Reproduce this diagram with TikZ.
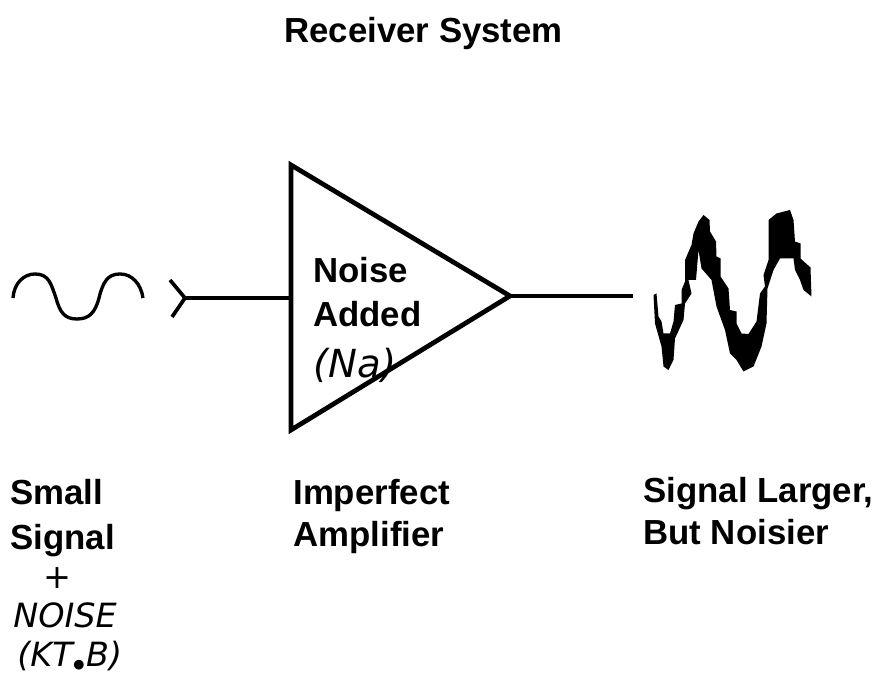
\documentclass[tikz,border=0pt]{standalone}
\usepackage{fontspec}
\setmainfont{Liberation Sans}
\newfontfamily\handfont{DejaVu Sans}
\tikzset{
  wire/.style={line width=2.1pt},
  ampline/.style={line width=2.7pt, line join=miter},
  printed/.style={anchor=base west, inner sep=0pt, font=\fontsize{19.8}{22}\selectfont\bfseries},
  handwritten/.style={anchor=base west, inner sep=0pt, font=\fontsize{19}{22}\selectfont\handfont\itshape}
}
\begin{document}
\begin{tikzpicture}
	\useasboundingbox (0,0) rectangle (17.66,13.58);
	\node[printed] (title) at (5.68,12.72) {Receiver System}; % Title
	\coordinate (ampTop) at (5.82,10.28);
	\coordinate (ampBot) at (5.82,4.98);
	\coordinate (ampTip) at (10.2,7.66);
	\coordinate (ampIn) at (5.82,7.62);
	\coordinate (fork) at (3.7,7.62);
	\coordinate (forkUp) at (3.4,7.98);
	\coordinate (forkDown) at (3.44,7.24);
	\coordinate (outEnd) at (12.66,7.66);
	\draw[ampline] (ampTop) -- (ampTip) -- (ampBot) -- cycle; % Amplifier
	\draw[wire] (ampIn) -- (fork); % Input line
	\draw[wire] (forkUp) -- (fork) -- (forkDown); % Input fork
	\draw[wire] (ampTip) -- (outEnd); % Output line
	\draw[line width=1.9pt] (0.26,7.62) .. controls (0.28,7.92) and (0.48,8.1) .. (0.7,8.1)
		.. controls (0.98,8.1) and (1.02,7.9) .. (1.12,7.62)
		.. controls (1.2,7.32) and (1.3,7.2) .. (1.54,7.2)
		.. controls (1.78,7.2) and (1.9,7.32) .. (1.98,7.62)
		.. controls (2.06,7.95) and (2.16,8.1) .. (2.4,8.1)
		.. controls (2.64,8.1) and (2.82,7.9) .. (2.86,7.62); % Small signal
	\fill[black] (13.07,7.68) -- (13.13,7.71) -- (13.17,7.25) -- (13.23,7.15) -- (13.27,6.91) -- (13.4,6.91)
		-- (13.47,7.15) -- (13.5,7.48) -- (13.63,7.51) -- (13.63,7.78) -- (13.7,7.95) -- (13.7,8.38)
		-- (13.83,8.68) -- (13.87,8.91) -- (13.97,9.15) -- (14.07,9.28) -- (14.19,9.18) -- (14.2,8.95)
		-- (14.32,8.75) -- (14.33,8.45) -- (14.41,8.41) -- (14.41,8.05) -- (14.57,7.81) -- (14.6,7.38)
		-- (14.73,7.35) -- (14.73,7.11) -- (14.83,6.91) -- (14.97,6.9) -- (15.13,7.15) -- (15.2,7.71)
		-- (15.3,7.85) -- (15.27,8.08) -- (15.37,8.38) -- (15.37,9.18) -- (15.53,9.31) -- (15.8,9.38)
		-- (15.87,9.18) -- (15.9,8.75) -- (16.01,8.71) -- (16.01,8.41) -- (16.21,8.23) -- (16.23,7.65)
		-- (16.07,7.78) -- (16.0,7.98) -- (15.9,8.18) -- (15.87,8.41) -- (15.6,8.41) -- (15.47,8.18)
		-- (15.35,7.81) -- (15.33,7.11) -- (15.23,6.65) -- (15.07,6.25) -- (14.87,6.15) -- (14.73,6.38)
		-- (14.6,6.51) -- (14.5,6.98) -- (14.33,7.45) -- (14.23,7.98) -- (14.03,8.21) -- (13.97,8.58)
		-- (13.92,7.98) -- (13.77,7.98) -- (13.83,7.71) -- (13.7,7.51) -- (13.67,7.18) -- (13.5,6.81)
		-- (13.47,6.38) -- (13.37,6.18) -- (13.27,6.25) -- (13.23,6.65) -- (13.1,7.11) -- cycle; % Noisy signal
	\node[printed] (noise) at (6.26,7.92) {Noise}; % Amplifier text
	\node[printed] (added) at (6.26,7.04) {Added};
	\node[handwritten, font=\fontsize{22}{24}\selectfont\handfont\itshape] (na) at (6.26,6.02) {(Na)};
	\node[printed] (small) at (0.2,3.48) {Small}; % Left column
	\node[printed] (signal) at (0.2,2.58) {Signal};
	\node[handwritten, anchor=center] (plus) at (1.14,2.02) {+};
	\node[handwritten] (noisehand) at (0.26,1.02) {NOISE};
	\node[handwritten] (ktb) at (0.34,0.24) {(KT$_{\bullet}$B)};
	\node[printed] (imperfect) at (5.86,3.48) {Imperfect}; % Middle column
	\node[printed] (amplifier) at (5.86,2.64) {Amplifier};
	\node[printed] (larger) at (12.86,3.52) {Signal Larger,}; % Right column
	\node[printed] (noisier) at (12.86,2.68) {But Noisier};
\end{tikzpicture}
\end{document}
